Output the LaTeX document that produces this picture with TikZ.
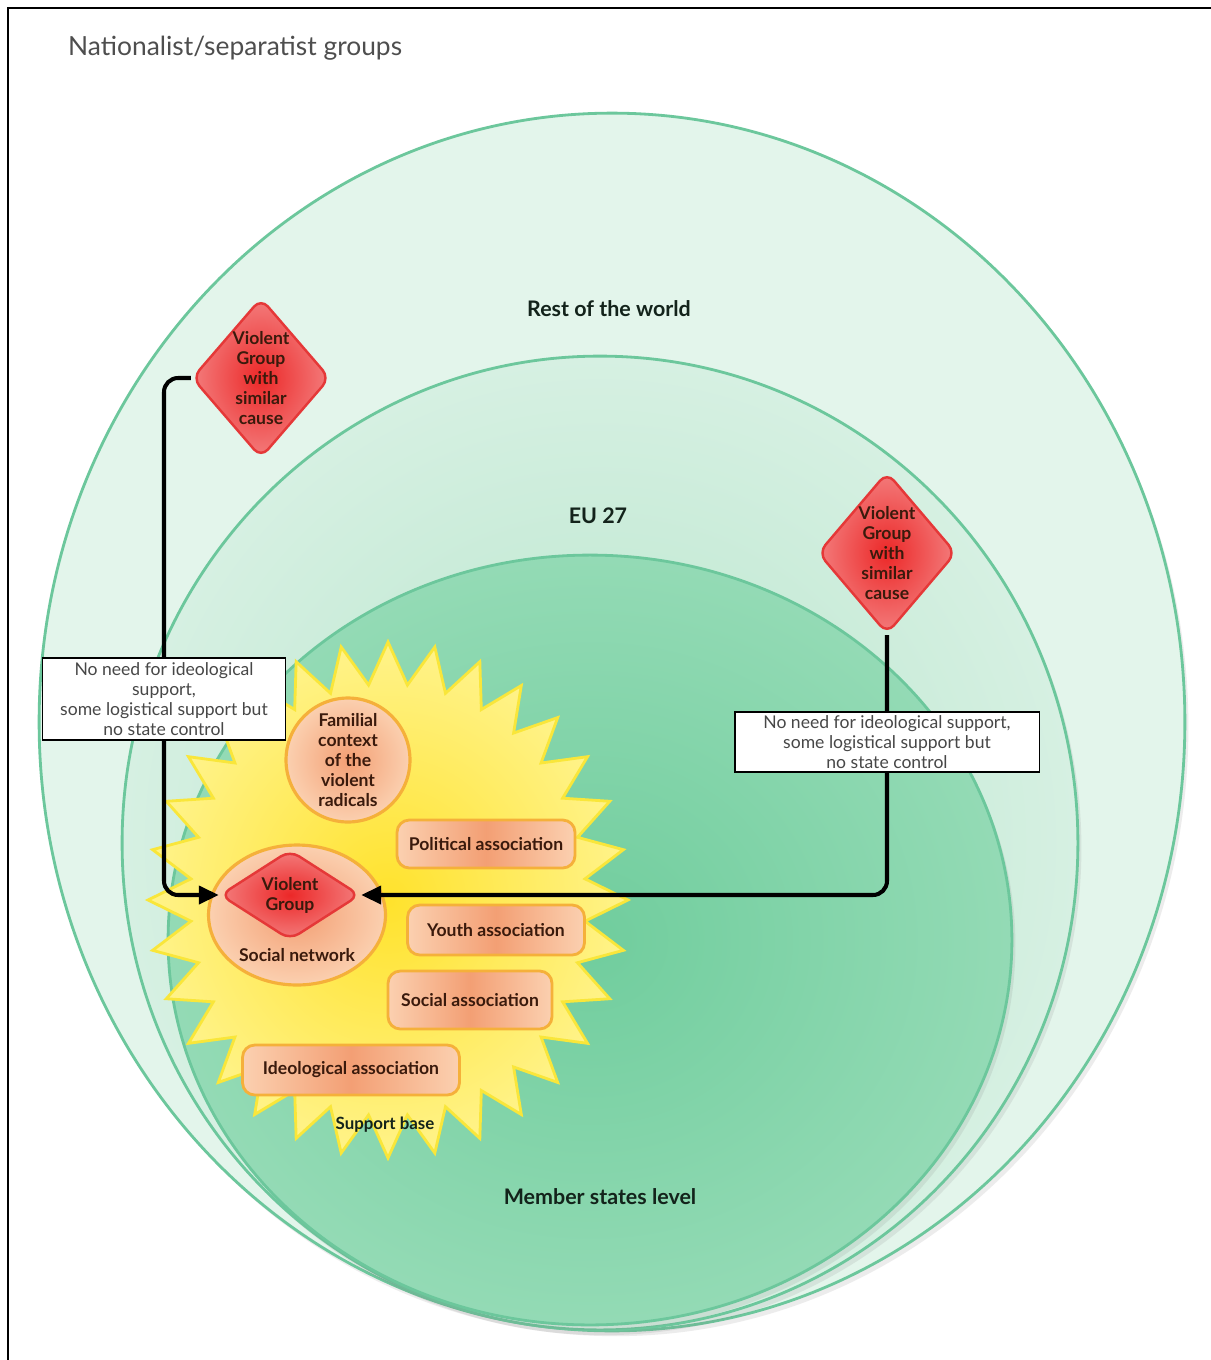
\documentclass[tikz,border=0pt]{standalone}
\usepackage{fontspec}
\setmainfont{Lato}
\usepackage{tikz}
\usetikzlibrary{arrows.meta, positioning, shapes.geometric, shadows, calc}

\definecolor{ringEdge}{HTML}{6CC79C}
\definecolor{worldFill}{HTML}{E3F5EB}
\definecolor{euInner}{HTML}{B6E5CB}
\definecolor{euOuter}{HTML}{D6F0E2}
\definecolor{msInner}{HTML}{70CD9D}
\definecolor{msMid}{HTML}{92DAB4}
\definecolor{msOuter}{HTML}{BAE9D0}
\definecolor{starInner}{HTML}{FFE22C}
\definecolor{starOuter}{HTML}{FFF38A}
\definecolor{starEdge}{HTML}{F9E63A}
\definecolor{peachInner}{HTML}{F39F74}
\definecolor{peachOuter}{HTML}{FBD0B0}
\definecolor{peachEdge}{HTML}{F5B03A}
\definecolor{redInner}{HTML}{EC2828}
\definecolor{redOuter}{HTML}{F37C7C}
\definecolor{redEdge}{HTML}{E53838}
\definecolor{brownText}{HTML}{3A1A0C}
\definecolor{titleGray}{HTML}{4E4E4E}
\definecolor{levelText}{HTML}{13231B}

\pgfdeclareradialshading{msShade}{\pgfpoint{0bp}{0bp}}{%
    color(0bp)=(msInner); color(24bp)=(msMid); color(50bp)=(msOuter)}

\tikzset{
    ringLine/.style={draw=ringEdge, line width=1.6pt},
    ringShadow/.style={drop shadow={shadow xshift=2pt, shadow yshift=-3pt, opacity=0.15}},
    levelLabel/.style={font=\bfseries\fontsize{12.2}{14}\selectfont, text=levelText},
    groupDiamond/.style={diamond, draw=redEdge, line width=1.4pt, rounded corners=6pt,
        inner color=redInner, outer color=redOuter, inner sep=0pt},
    groupText/.style={align=center, font=\bfseries\fontsize{10}{11.4}\selectfont, text=brownText},
    peachRound/.style={draw=peachEdge, line width=1.8pt, inner color=peachInner, outer color=peachOuter},
    assocBox/.style={rectangle, rounded corners=7pt, draw=peachEdge, line width=1.6pt,
        left color=peachOuter, right color=peachOuter, middle color=peachInner,
        font=\bfseries\fontsize{10}{12}\selectfont, text=brownText},
    noteBox/.style={rectangle, draw=black, line width=1.1pt, fill=white, align=center,
        inner sep=0pt, font=\fontsize{10}{11.4}\selectfont, text=black!72},
    linkLine/.style={line width=2.3pt, rounded corners=8pt, -{Triangle[length=4mm, width=3.6mm]}}
}

\begin{document}
\begin{tikzpicture}[x=0.02cm, y=-0.02cm]

    % --- Page ---
    \useasboundingbox[fill=white] (0,0) rectangle (1211,1360);
    \draw[line width=1.5pt] (8,1362) -- (8,8) -- (1212,8);
    \node[anchor=west, font=\fontsize{15}{17}\selectfont, text=titleGray] (title) at (62,48) {Nationalist/separatist groups};

    % --- Levels ---
    \draw[ringLine, ringShadow, fill=worldFill] (612,722) ellipse [x radius=11.46cm, y radius=12.18cm];
    \draw[ringLine, ringShadow, inner color=euInner, outer color=euOuter] (600,843) ellipse [x radius=9.56cm, y radius=9.74cm];
    \draw[ringLine, ringShadow, shading=msShade] (590,940) ellipse [x radius=8.44cm, y radius=7.70cm];

    \node[levelLabel] (world) at (609,309) {Rest of the world};
    \node[levelLabel] (eu) at (598,516) {EU 27};
    \node[levelLabel] (states) at (600,1197) {Member states level};

    % --- Support base (star) ---
    \draw[draw=starEdge, line width=1.6pt, inner color=starInner, outer color=starOuter]
        (628,900) \foreach \i in {1,...,63} {
            -- ({388+(240-42*mod(\i,2))*cos(\i*5.625)}, {900+(258-42*mod(\i,2))*sin(\i*5.625)})
        } -- cycle;
    \node[font=\bfseries\fontsize{9.6}{11}\selectfont, text=levelText] (base) at (385,1125) {Support base};

    % --- Circles of support ---
    \node[circle, peachRound, minimum size=2.48cm, inner sep=0pt, groupText] (family) at (348,760)
        {Familial\\context\\of the\\violent\\radicals};
    \node[ellipse, peachRound, minimum width=3.54cm, minimum height=2.8cm] (net) at (297,915) {};
    \node[groupText] (netLabel) at (297,955) {Social network};

    \node[assocBox, minimum width=3.56cm, minimum height=0.96cm] (political) at (486,844) {Political association};
    \node[assocBox, minimum width=3.54cm, minimum height=1.0cm] (youth) at (496,930) {Youth association};
    \node[assocBox, minimum width=3.28cm, minimum height=1.16cm] (social) at (470,1000) {Social association};
    \node[assocBox, minimum width=4.34cm, minimum height=1.0cm] (ideological) at (351,1070) {Ideological association};

    % --- Violent groups ---
    \node[groupDiamond, minimum width=2.8cm, minimum height=1.8cm] (vg) at (290,895) {};
    \node[groupText] (vgText) at (vg) {Violent\\Group};

    \node[groupDiamond, minimum width=2.76cm, minimum height=3.2cm] (simL) at (261,378) {};
    \node[groupText] (simLText) at (simL) {Violent\\Group\\with\\similar\\cause};

    \node[groupDiamond, minimum width=2.76cm, minimum height=3.24cm] (simR) at (887,553) {};
    \node[groupText] (simRText) at (simR) {Violent\\Group\\with\\similar\\cause};

    % --- Links ---
    \coordinate (railL) at (164,699);
    \coordinate (railR) at (887,742);
    \draw[linkLine] (simL.west) -| (railL) |- (vg.west);
    \draw[linkLine] (simR.south) |- (vg.east);

    \node[noteBox, minimum width=4.86cm, minimum height=1.64cm] (noteL) at (railL)
        {No need for ideological\\support,\\some logistical support but\\no state control};
    \node[noteBox, minimum width=6.1cm, minimum height=1.2cm] (noteR) at (railR)
        {No need for ideological support,\\some logistical support but\\no state control};

\end{tikzpicture}
\end{document}
